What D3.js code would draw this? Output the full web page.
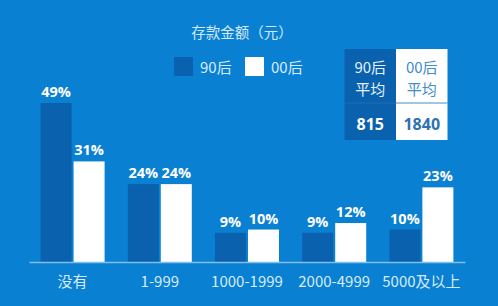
<!DOCTYPE html>
<html><head><meta charset="utf-8">
<script src="https://cdn.jsdelivr.net/npm/d3@7"></script>
<style>
html,body{margin:0;padding:0;background:#0a80d2;}
svg{display:block;font-family:"Noto Sans CJK SC","Noto Sans",sans-serif;}
</style></head>
<body>
<svg id="chart" width="498" height="306"></svg>
<script>
const categories = ["没有", "1-999", "1000-1999", "2000-4999", "5000及以上"];
const seriesNames = ["90后", "00后"];
const values90 = [49, 24, 9, 9, 10];
const values00 = [31, 24, 10, 12, 23];
const title = "存款金额（元）";
const avgLabels = ["90后\n平均", "00后\n平均"];
const avgValues = [815, 1840];

const W = 498, H = 306;
const bg = "#0a80d2", dark = "#0a61ad", white = "#ffffff";
const svg = d3.select("#chart");
svg.append("rect").attr("width", W).attr("height", H).attr("fill", bg);

const baseY = 262;
const x0 = d3.scaleBand().domain(categories).range([29, 465]).paddingInner(0.266).paddingOuter(0.133);
const x1 = d3.scaleBand().domain(seriesNames).range([0, x0.bandwidth()]).paddingInner(0.06);
const y = d3.scaleLinear().domain([0, 49]).range([baseY, 103]);
const colors = {"90后": dark, "00后": white};

const data = categories.map((c, i) => ({cat: c, vals: [
  {s: "90后", v: values90[i]}, {s: "00后", v: values00[i]}]}));

const g = svg.append("g");
const groups = g.selectAll("g.grp").data(data).join("g")
  .attr("transform", d => `translate(${x0(d.cat)},0)`);
groups.selectAll("rect").data(d => d.vals).join("rect")
  .attr("x", d => x1(d.s)).attr("width", x1.bandwidth())
  .attr("y", d => y(d.v)).attr("height", d => baseY - y(d.v))
  .attr("fill", d => colors[d.s]);
groups.selectAll("text.val").data(d => d.vals).join("text")
  .attr("class", "val")
  .attr("x", d => x1(d.s) + x1.bandwidth() / 2)
  .attr("y", d => y(d.v) - 6)
  .attr("text-anchor", "middle")
  .attr("fill", "#ffffff").attr("font-weight", "bold").attr("font-size", 14.5)
  .attr("font-family", "'Open Sans','Noto Sans',sans-serif")
  .text(d => d.v + "%");

// axis
const axis = d3.axisBottom(x0).tickSize(0).tickPadding(14);
const ax = svg.append("g").attr("transform", `translate(0,${baseY})`).call(axis);
ax.select(".domain").attr("stroke", "#7fc0ee").attr("stroke-width", 1.5);
ax.selectAll("text").attr("fill", "#d6ebfa").attr("font-size", 15)
  .attr("font-family", "'Noto Sans CJK SC','Noto Sans',sans-serif");

// title
svg.append("text").attr("x", 242).attr("y", 38).attr("text-anchor", "middle")
  .attr("fill", "#d2e8f8").attr("font-size", 14.5).text(title);

// legend
const leg = [{n: seriesNames[0], x: 174}, {n: seriesNames[1], x: 245}];
leg.forEach(l => {
  svg.append("rect").attr("x", l.x).attr("y", 57).attr("width", 19).attr("height", 19)
    .attr("fill", colors[l.n]);
  svg.append("text").attr("x", l.x + 26).attr("y", 72.5).attr("fill", "#d6ebfa")
    .attr("font-size", 15).text(l.n);
});

// average table
const tx = [344.5, 396], tw = 51.5, ty = 49, th = 91;
const tcols = [{bg: dark, fg: "#e4f1fb", num: "#ffffff"}, {bg: white, fg: "#3f8dcc", num: "#2c72b2"}];
avgLabels.forEach((lab, i) => {
  svg.append("rect").attr("x", tx[i]).attr("y", ty).attr("width", tw).attr("height", th)
    .attr("fill", tcols[i].bg);
  const lines = lab.split("\n");
  lines.forEach((t, j) => {
    svg.append("text").attr("x", tx[i] + tw / 2).attr("y", 72.5 + j * 22)
      .attr("text-anchor", "middle").attr("fill", tcols[i].fg).attr("font-size", 15).text(t);
  });
  svg.append("text").attr("x", tx[i] + tw / 2).attr("y", 129.5)
    .attr("text-anchor", "middle").attr("fill", tcols[i].num).attr("font-size", 16)
    .attr("font-weight", "bold").attr("font-family", "'Open Sans','Noto Sans',sans-serif")
    .text(avgValues[i]);
});
svg.append("line").attr("x1", tx[1]).attr("x2", tx[1] + tw).attr("y1", 103).attr("y2", 103)
  .attr("stroke", "#4a8cc4").attr("stroke-width", 1);
svg.append("line").attr("x1", tx[0]).attr("x2", tx[0] + tw).attr("y1", 103).attr("y2", 103)
  .attr("stroke", "#1f6fb5").attr("stroke-width", 1);
</script>
</body></html>
